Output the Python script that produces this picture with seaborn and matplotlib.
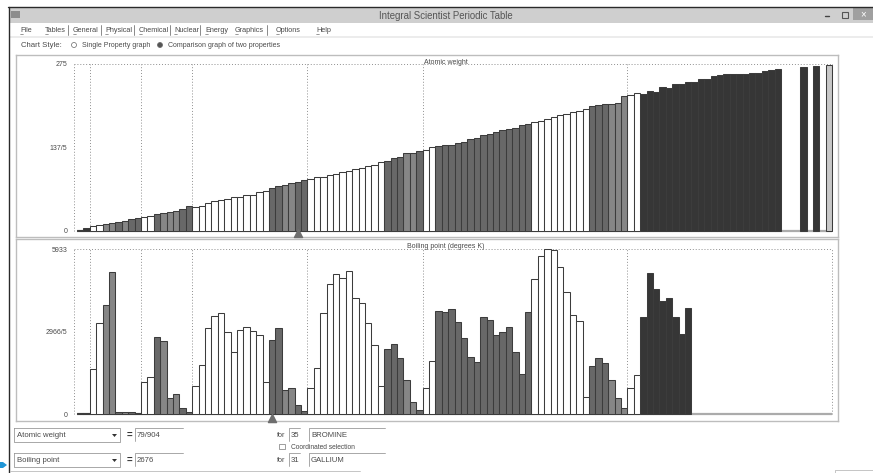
import matplotlib
matplotlib.use("Agg")
import numpy as np
import pandas as pd
import seaborn as sns
from matplotlib import pyplot as plt
from matplotlib.patches import Circle, Polygon, Rectangle

FIG_W, FIG_H = 873, 473

# values, atomic number 1..118 (nan = no bar drawn)
nan = float("nan")
atomic_weight = [
    1.0, 4.0, 6.9, 9.0, 10.8, 12.0, 14.0, 16.0, 19.0, 20.2,
    23.0, 24.3, 27.0, 28.1, 31.0, 32.1, 35.5, 40.0, 39.1, 40.1,
    45.0, 47.9, 50.9, 52.0, 54.9, 55.8, 58.9, 58.7, 63.5, 65.4,
    69.7, 72.6, 74.9, 79.0, 79.9, 83.8, 85.5, 87.6, 88.9, 91.2,
    92.9, 95.9, 98.0, 101.1, 102.9, 106.4, 107.9, 112.4, 114.8, 118.7,
    121.8, 127.6, 126.9, 131.3, 132.9, 137.3, 138.9, 140.1, 140.9, 144.2,
    145.0, 150.4, 152.0, 157.3, 158.9, 162.5, 164.9, 167.3, 168.9, 173.0,
    175.0, 178.5, 181.0, 183.8, 186.2, 190.2, 192.2, 195.1, 197.0, 200.6,
    204.4, 207.2, 209.0, 209.0, 210.0, 222.0, 223.0, 226.0, 224.0, 230.0,
    228.0, 236.0, 235.0, 241.0, 241.0, 245.0, 245.0, 249.0, 250.0, 255.0,
    256.0, 257.0, 257.0, 258.0, 258.5, 260.0, 259.6, 262.0, 264.5, 266.7,
    nan, nan, nan, 269.5, nan, 271.0, nan, 272.0,
]
boiling_point = [
    60, 45, 1630, 3272, 3931, 5106, 77, 90, 85, 50,
    1175, 1354, 2793, 2637, 575, 720, 239, 87, 1031, 1774,
    3092, 3548, 3656, 2972, 2253, 3032, 3152, 3008, 2852, 1175,
    2676, 3092, 875, 958, 332, 120, 959, 1678, 3632, 4675,
    5035, 4915, 5155, 4173, 3991, 3272, 2490, 1031, 2349, 2529,
    2014, 1235, 431, 156, 935, 1918, 3728, 3692, 3788, 3308,
    2733, 2074, 1894, 3500, 3404, 2853, 2972, 3141, 2230, 1462,
    3680, 4877, 5705, 5933, 5921, 5310, 4411, 3560, 3344, 623,
    1738, 2014, 1834, 1235, 599, 216, 935, 1402, 3488, 5070,
    4495, 4087, 4183, 3512, 2889, 3811,
] + [nan] * 22
tone_runs = [
    ("black", 2), ("open", 2), ("light", 2), ("mid", 1), ("light", 1), ("mid", 2),
    ("open", 2), ("mid", 1), ("light", 3), ("mid", 2), ("open", 12),
    ("mid", 2), ("light", 2), ("mid", 2), ("open", 12), ("mid", 3), ("light", 2), ("mid", 1),
    ("open", 2), ("mid", 15), ("open", 9), ("mid", 3), ("light", 3),
    ("open", 2), ("black", 22), ("open", 3), ("black", 1), ("open", 1), ("black", 1),
    ("open", 1), ("pale", 1),
]
tones = {"black": "#363636", "open": "#ffffff", "mid": "#686868", "light": "#868686", "pale": "#c8c8c8"}
period_edges = [0, 2.5, 10.5, 18.5, 36.5, 54.5, 86.5, 118.5]
weight_ticks = [0, 137.5, 275]
weight_labels = ["0", "137/5", "275"]
boiling_ticks = [0, 2966.5, 5933]
boiling_labels = ["0", "2966/5", "5933"]
menu_items = ["File", "Tables", "General", "Physical", "Chemical", "Nuclear", "Energy", "Graphics", "Options", "Help"]
menu_x = [20, 45, 73, 105, 139, 174, 205, 235, 276, 316]
selected_top = 35
selected_bottom = 31

df = pd.DataFrame({
    "number": range(1, 119),
    "weight": atomic_weight,
    "boiling": boiling_point,
    "tone": [t for t, n in tone_runs for _ in range(n)],
})

sns.set_theme(style="white")
plt.rcParams["font.family"] = ["Liberation Sans", "DejaVu Sans"]
TXT = "#4a4a4a"

fig = plt.figure(figsize=(FIG_W / 100, FIG_H / 100), dpi=100, facecolor="white")

# window chrome in pixel coordinates
ui = fig.add_axes([0, 0, 1, 1])
ui.set_xlim(0, FIG_W)
ui.set_ylim(FIG_H, 0)
ui.axis("off")
ui.add_patch(Rectangle((9, 8), 864, 15, color="#cfcfcf", lw=0))
ui.plot([8, 873], [7.5, 7.5], color="#2a2a2a", lw=1)
ui.plot([8.5, 8.5], [7, 473], color="#2a2a2a", lw=1)
ui.add_patch(Rectangle((11, 11), 9, 7, color="#8c8c8c", lw=0))
ui.add_patch(Rectangle((853, 8), 20, 12, color="#a0a0a0", lw=0))
ui.text(446, 16, "Integral Scientist Periodic Table", ha="center", va="center", fontsize=6.9, color="#555555")
ui.text(863, 14.5, "×", ha="center", va="center", fontsize=7, color="white")
ui.plot([825, 829], [16, 16], color="#444444", lw=1)
ui.add_patch(Rectangle((842, 12), 6, 6, fc="none", ec="#555555", lw=0.8))
for label, x in zip(menu_items, menu_x):
    ui.text(x, 30, label, va="center", fontsize=5.2, color=TXT)
    ui.plot([x, x + 3], [34, 34], color=TXT, lw=0.4)
for x in [68, 101, 134, 170, 200, 267]:
    ui.plot([x, x], [25, 35], color="#777777", lw=0.6)
ui.add_patch(Rectangle((9, 36), 864, 2, color="#ececec", lw=0))
ui.text(21, 45.5, "Chart Style:", va="center", fontsize=5.6, color=TXT)
ui.add_patch(Circle((74, 45), 2.5, fc="white", ec="#666666", lw=0.5))
ui.text(82, 45.5, "Single Property graph", va="center", fontsize=5, color=TXT)
ui.add_patch(Circle((160, 45), 2.5, fc="#555555", ec="#666666", lw=0.5))
ui.text(168, 45.5, "Comparison graph of two properties", va="center", fontsize=5, color=TXT)

# selectors below the panels
for y, prop, val, num, name in [(435, "Atomic weight", "79/904", "35", "BROMINE"),
                                (460, "Boiling point", "2676", "31", "GALLIUM")]:
    ui.plot([14, 14, 120, 120, 14], [y - 7, y + 7, y + 7, y - 7, y - 7], color="#9a9a9a", lw=0.6)
    ui.text(17, y, prop, va="center", fontsize=5.6, color=TXT)
    ui.add_patch(Polygon([[112, y - 1], [117, y - 1], [114.5, y + 2]], color="#333333", lw=0))
    ui.text(129, y, "=", ha="center", va="center", fontsize=7, color="#333333", weight="bold")
    ui.plot([135, 135, 183], [y + 6, y - 7, y - 7], color="#9a9a9a", lw=0.6)
    ui.text(137, y, val, va="center", fontsize=5.6, color=TXT)
    ui.text(277, y, "for", va="center", fontsize=5.2, color=TXT)
    ui.plot([289, 289, 300], [y + 6, y - 7, y - 7], color="#9a9a9a", lw=0.6)
    ui.text(291, y, num, va="center", fontsize=5.6, color=TXT)
    ui.plot([309, 309, 385], [y + 6, y - 7, y - 7], color="#9a9a9a", lw=0.6)
    ui.text(311, y, name, va="center", fontsize=5.6, color=TXT)
ui.add_patch(Rectangle((279, 444), 6, 5, fc="none", ec="#777777", lw=0.5))
ui.text(291, 447.5, "Coordinated selection", va="center", fontsize=4.8, color=TXT)
ui.add_patch(Polygon([[0, 462], [3, 462], [7, 465], [3, 468], [0, 468]], color="#1f95d6", lw=0))
ui.plot([10, 360], [471, 471], color="#bbbbbb", lw=0.6)
ui.plot([835, 835, 873], [473, 470, 470], color="#bbbbbb", lw=0.6)


def px_rect(left, top, right, bottom):
    return [left / FIG_W, 1 - bottom / FIG_H, (right - left) / FIG_W, (bottom - top) / FIG_H]


def draw_panel(rect, column, title, ticks, labels, ylim, selected, marker_y):
    ax = fig.add_axes(px_rect(*rect))
    ax.set_facecolor("white")
    ymax = ticks[-1]
    ax.hlines(0, 0.5, 118.5, color="#ababab", lw=1.6, zorder=1)
    ax.hlines(ymax, 0, 118.5, color="#8f8f8f", lw=0.7, ls=(0, (1, 2)), zorder=1)
    ax.vlines(period_edges, 0, ymax, color="#8f8f8f", lw=0.7, ls=(0, (1, 2)), zorder=1)
    sns.barplot(data=df, x="number", y=column, hue="tone", palette=tones, dodge=False, width=1,
                native_scale=True, edgecolor="#3c3c3c", linewidth=0.75, legend=False, ax=ax, zorder=2)
    ax.scatter([selected], [marker_y], marker="^", s=34, color="#6e6e6e", clip_on=False, zorder=3)
    ax.set_xlim(-9.03, 119.4)
    ax.set_ylim(*ylim)
    ax.set_xticks([])
    ax.set_yticks(ticks, labels)
    ax.tick_params(axis="y", length=0, pad=-37, labelsize=5, labelcolor=TXT)
    ax.set_xlabel("")
    ax.set_ylabel("")
    ax.set_title(title, fontsize=5, color=TXT, x=0.523, y=0.952, pad=0)
    for s in ax.spines.values():
        s.set_color("#bdbdbd")
        s.set_linewidth(1)
    return ax


draw_panel((16, 55, 838, 237), "weight", "Atomic weight", weight_ticks, weight_labels,
           (-10.7, 289), selected_top, -4)
draw_panel((16, 239, 838, 421), "boiling", "Boiling point (degrees K)", boiling_ticks, boiling_labels,
           (-241, 6303), selected_bottom, -130)

fig.savefig("out.png", dpi=100)
